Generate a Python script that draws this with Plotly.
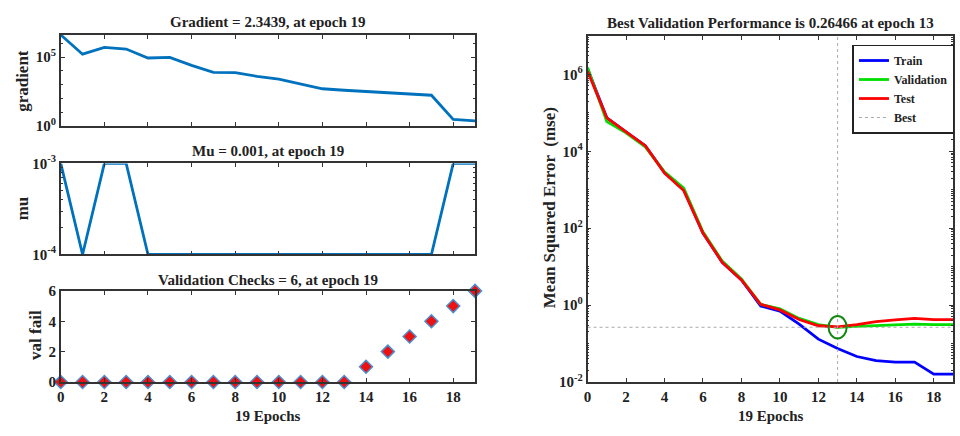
import plotly.graph_objects as go

epochs = [0, 1, 2, 3, 4, 5, 6, 7, 8, 9, 10, 11, 12, 13, 14, 15, 16, 17, 18, 19]
gradient = [4.0e6, 1.6e5, 5.0e5, 3.8e5, 8.5e4, 9.5e4, 2.5e4, 7.8e3, 7.5e3, 4.0e3,
            2.5e3, 1.1e3, 5.0e2, 3.9e2, 3.2e2, 2.6e2, 2.0e2, 1.7e2, 3.0, 2.3439]
mu = [1e-3, 1e-4, 1e-3, 1e-3, 1e-4, 1e-4, 1e-4, 1e-4, 1e-4, 1e-4,
      1e-4, 1e-4, 1e-4, 1e-4, 1e-4, 1e-4, 1e-4, 1e-4, 1e-3, 1e-3]
val_fail = [0, 0, 0, 0, 0, 0, 0, 0, 0, 0, 0, 0, 0, 0, 1, 2, 3, 4, 5, 6]

train = [1.4e6, 7.4e4, 3.2e4, 1.4e4, 2.8e3, 1.0e3, 75, 13, 4.5, 0.95,
         0.7, 0.32, 0.13, 0.074, 0.046, 0.036, 0.033, 0.033, 0.016, 0.016]
validation = [1.5e6, 5.9e4, 3.0e4, 1.3e4, 2.9e3, 1.1e3, 80, 14, 4.8, 1.05,
              0.8, 0.45, 0.31, 0.26466, 0.28, 0.29, 0.31, 0.32, 0.31, 0.31]
test = [1.2e6, 7.4e4, 3.2e4, 1.4e4, 2.7e3, 0.95e3, 75, 13, 4.5, 1.05,
        0.75, 0.42, 0.29, 0.27, 0.31, 0.37, 0.41, 0.45, 0.42, 0.42]
best_epoch = 13
best_perf = 0.26466

FONT = "Liberation Serif"
AX = "#333333"
TXT = "#222222"
MBLUE = "#0072BD"


def W(px):
    return px / 960


def H(px):
    return 1 - px / 436


def minor_log(lo, hi):
    vals = []
    for e in range(lo, hi):
        for m in range(1, 10):
            vals.append(m * 10 ** e)
    vals.append(10 ** hi)
    return vals


def sup(e):
    return "10<sup>%d</sup>" % e


fig = go.Figure()

# gradient
fig.add_trace(go.Scatter(x=epochs, y=gradient, mode="lines", line=dict(color=MBLUE, width=2.8),
                         xaxis="x", yaxis="y", showlegend=False, cliponaxis=False))
# mu
fig.add_trace(go.Scatter(x=epochs, y=mu, mode="lines", line=dict(color=MBLUE, width=2.8),
                         xaxis="x2", yaxis="y2", showlegend=False, cliponaxis=False))
# val fail
fig.add_trace(go.Scatter(x=epochs, y=val_fail, mode="markers",
                         marker=dict(symbol="diamond", size=10, color="#ee1111",
                                     line=dict(color="#4a8fd0", width=1.5)),
                         xaxis="x3", yaxis="y3", showlegend=False, cliponaxis=False))
# performance
fig.add_trace(go.Scatter(x=epochs, y=train, mode="lines", name="Train",
                         line=dict(color="#0000ff", width=2.8), xaxis="x4", yaxis="y4"))
fig.add_trace(go.Scatter(x=epochs, y=validation, mode="lines", name="Validation",
                         line=dict(color="#00dd00", width=2.8), xaxis="x4", yaxis="y4"))
fig.add_trace(go.Scatter(x=epochs, y=test, mode="lines", name="Test",
                         line=dict(color="#ff0000", width=2.8), xaxis="x4", yaxis="y4"))
fig.add_trace(go.Scatter(x=[best_epoch, best_epoch, None, 0, 19],
                         y=[1e-2, 1e7, None, best_perf, best_perf], mode="lines", name="Best",
                         line=dict(color="#aaaaaa", width=1, dash="dot"), xaxis="x4", yaxis="y4"))

# best-point ellipse (MATLAB's circle marker appears stretched)
half_w = 0.47        # epochs
half_h = 10 ** 0.29  # factor on the log axis
fig.add_shape(type="circle", xref="x4", yref="y4",
              x0=best_epoch - half_w, x1=best_epoch + half_w,
              y0=best_perf / half_h, y1=best_perf * half_h,
              line=dict(color="#118811", width=2))

tickfont = dict(family=FONT, size=15, color=TXT, weight="bold")
common_x = dict(range=[0, 19], showline=True, linecolor=AX, linewidth=1.5, mirror="ticks",
                ticks="inside", ticklen=4, tickcolor=AX, showgrid=False, zeroline=False,
                tickvals=[0, 2, 4, 6, 8, 10, 12, 14, 16, 18], tickfont=tickfont)
common_y = dict(showline=True, linecolor=AX, linewidth=1.5, mirror="ticks", ticks="inside",
                ticklen=4, tickcolor=AX, showgrid=False, zeroline=False, tickfont=tickfont)

lx = [W(57), W(473)]
fig.update_layout(
    width=960, height=436, margin=dict(l=0, r=0, t=0, b=0),
    paper_bgcolor="white", plot_bgcolor="white",
    font=dict(family=FONT, color=TXT),
    xaxis=dict(common_x, domain=lx, anchor="y", showticklabels=False),
    yaxis=dict(common_y, domain=[H(121), H(26)], anchor="x", type="log",
               range=[0, 6.602], tickvals=[1, 1e5], ticktext=[sup(0), sup(5)],
               minor=dict(tickvals=[10 ** e for e in range(0, 7)], ticks="inside", ticklen=2,
                          tickcolor=AX)),
    xaxis2=dict(common_x, domain=lx, anchor="y2", showticklabels=False),
    yaxis2=dict(common_y, domain=[H(255), H(160)], anchor="x2", type="log",
                range=[-4, -3], tickvals=[1e-4, 1e-3], ticktext=[sup(-4), sup(-3)],
                minor=dict(tickvals=minor_log(-4, -3), ticks="inside", ticklen=2, tickcolor=AX)),
    xaxis3=dict(common_x, domain=lx, anchor="y3"),
    yaxis3=dict(common_y, domain=[H(388), H(293)], anchor="x3", range=[0, 6],
                tickvals=[0, 2, 4, 6]),
    xaxis4=dict(common_x, domain=[W(586), W(953)], anchor="y4"),
    yaxis4=dict(common_y, domain=[H(388), H(27)], anchor="x4", type="log",
                range=[-2, 7], tickvals=[1e-2, 1, 1e2, 1e4, 1e6],
                ticktext=[sup(-2), sup(0), sup(2), sup(4), sup(6)],
                minor=dict(tickvals=minor_log(-2, 7), ticks="inside", ticklen=2, tickcolor=AX)),
    legend=dict(x=W(852), y=H(36), xanchor="left", yanchor="top", bgcolor="white",
                bordercolor=TXT, borderwidth=1.5,
                font=dict(family=FONT, size=12, color=TXT, weight="bold"), tracegroupgap=0,
                itemwidth=30),
)

title_font = dict(family=FONT, size=15, color=TXT, weight="bold")
hlabel_font = dict(family=FONT, size=15, color=TXT, weight="bold")
vlabel_font = dict(family=FONT, size=17, color=TXT, weight="bold")
ann = [
    ("Gradient = 2.3439, at epoch 19", W(265), H(13), 0, title_font),
    ("Mu = 0.001, at epoch 19", W(265), H(147), 0, title_font),
    ("Validation Checks = 6, at epoch 19", W(265), H(282), 0, title_font),
    ("Best Validation Performance is 0.26466 at epoch 13", W(770), H(14), 0, title_font),
    ("19 Epochs", W(265), H(423), 0, hlabel_font),
    ("19 Epochs", W(770), H(423), 0, hlabel_font),
    ("gradient", W(19), H(74), -90, vlabel_font),
    ("mu", W(19), H(207), -90, vlabel_font),
    ("val fail", W(31), H(339), -90, vlabel_font),
    ("Mean Squared Error  (mse)", W(548), H(206), -90, vlabel_font),
]
for text, x, y, ang, f in ann:
    fig.add_annotation(text=text, x=x, y=y, xref="paper", yref="paper", showarrow=False,
                       textangle=ang, font=f, xanchor="center", yanchor="middle")

fig.write_html("out.html")
